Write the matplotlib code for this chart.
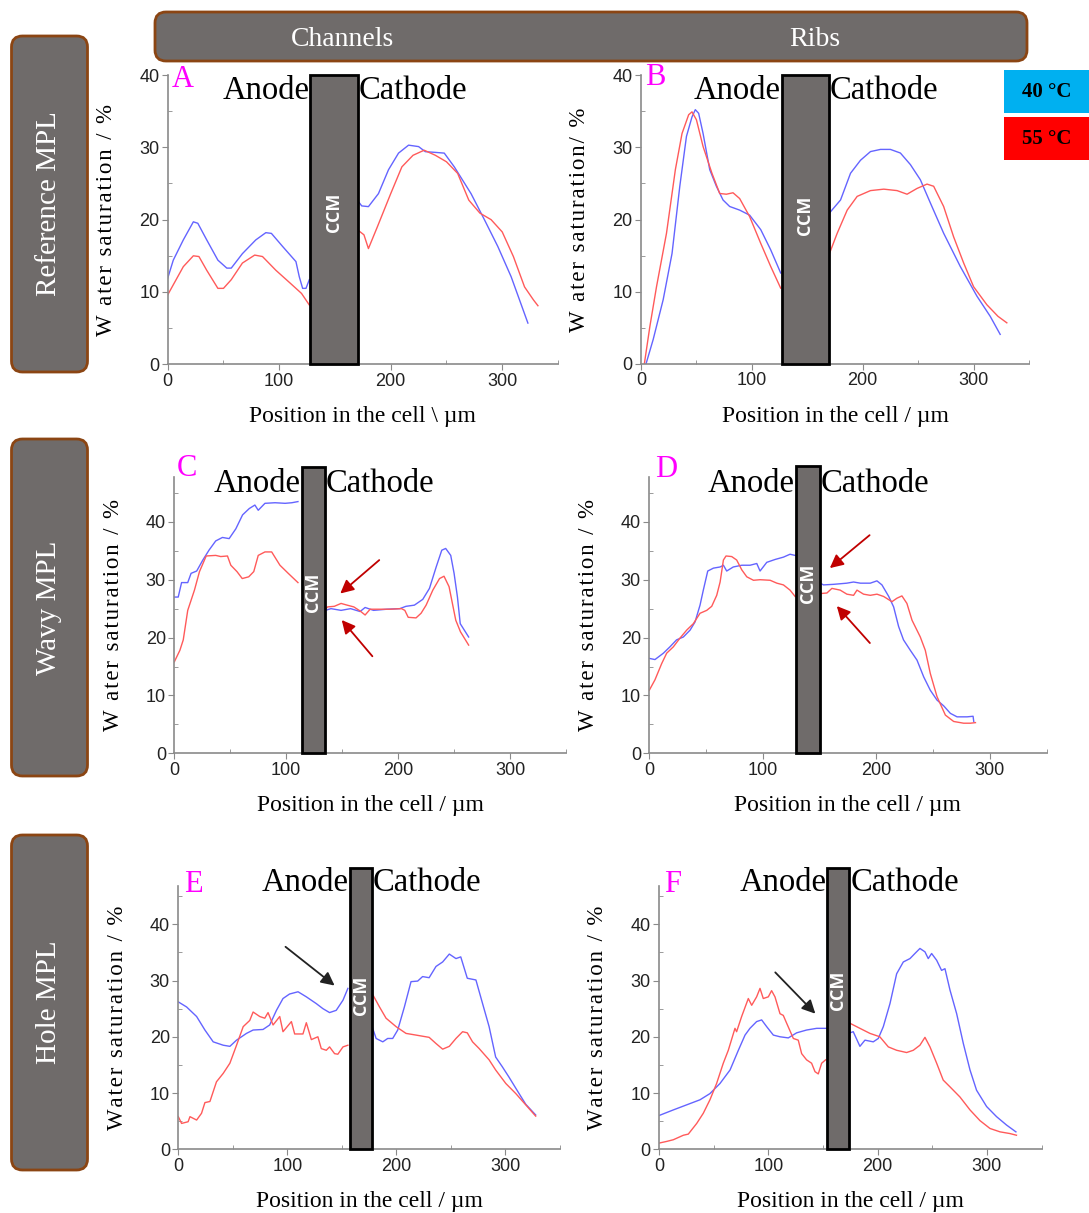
import numpy as np
import matplotlib
matplotlib.use("Agg")
import matplotlib.pyplot as plt
from matplotlib.patches import Rectangle, FancyBboxPatch

nan = np.nan

# ---- data (position in um, water saturation in %), nan splits anode / cathode
a_blue_x = [0, 5, 14, 23, 27, 35, 45, 53, 57, 67, 79, 88, 93, 103, 115, 118, 121, 124, 127, nan,
            171, 174, 180, 189, 198, 207, 216, 225, 231, 240, 248, 257, 272, 284, 296, 308, 323]
a_blue_y = [11.9, 14.4, 17.2, 19.7, 19.5, 17.2, 14.4, 13.3, 13.3, 15.3, 17.2, 18.2, 18.1, 16.3, 14.2, 12.1, 10.5, 10.5, 11.7, nan,
            22.5, 21.9, 21.8, 23.6, 26.9, 29.2, 30.3, 30.1, 29.4, 29.3, 29.2, 27.3, 23.6, 20.0, 16.3, 12.1, 5.7]
a_red_x = [0, 14, 23, 28, 35, 45, 50, 57, 67, 78, 85, 97, 110, 120, 127, nan,
           171, 176, 180, 188, 200, 210, 220, 230, 240, 250, 260, 270, 280, 290, 300, 310, 320, 328, 332]
a_red_y = [9.6, 13.5, 15.0, 14.9, 13.0, 10.5, 10.5, 11.7, 14.0, 15.1, 14.9, 13.0, 11.2, 9.8, 8.2, nan,
           18.5, 17.9, 16.0, 19.0, 23.6, 27.3, 28.9, 29.6, 28.9, 28.0, 26.4, 22.7, 20.9, 20.0, 18.3, 14.9, 10.7, 8.9, 8.1]

b_blue_x = [4.5, 11, 20, 28, 35, 41, 46, 49, 52, 56, 62, 68, 74, 80, 89, 98, 108, 117, 126, nan,
            170, 180, 189, 198, 207, 216, 225, 234, 243, 252, 261, 273, 288, 303, 315, 324]
b_blue_y = [0, 3.4, 8.9, 15.3, 24.6, 31.5, 34.2, 35.2, 34.7, 31.9, 26.9, 24.6, 22.7, 21.8, 21.3, 20.6, 18.6, 15.8, 12.6, nan,
            20.9, 22.7, 26.4, 28.2, 29.4, 29.7, 29.7, 29.2, 27.6, 25.5, 22.3, 18.1, 13.5, 9.4, 6.6, 4.1]
b_red_x = [3, 8, 14, 23, 31, 37, 43, 46, 50, 56, 64, 71, 77, 83, 89, 98, 108, 117, 126, nan,
           170, 177, 186, 195, 207, 219, 231, 240, 249, 258, 264, 273, 282, 291, 300, 312, 322, 330]
b_red_y = [0, 5.2, 10.7, 18.1, 26.9, 31.9, 34.5, 34.9, 33.8, 30.1, 26.4, 23.6, 23.5, 23.7, 22.9, 20.4, 16.7, 13.5, 10.5, nan,
           15.3, 18.1, 21.3, 23.2, 24.0, 24.2, 24.0, 23.5, 24.3, 24.9, 24.6, 21.8, 17.6, 14.0, 10.7, 8.2, 6.6, 5.7]

c_blue_x = [0, 3.5, 6.5, 12, 15, 20, 25.5, 31, 37, 43, 49, 55, 61, 67, 72, 75, 81, 90, 99, 105, 110.5, nan,
            135, 140, 149, 157.5, 166, 170.5, 178, 190, 201.5, 207, 214.5, 222, 228, 234, 239, 242.5, 247, 250, 253, 255.5, 263]
c_blue_y = [27.0, 27.0, 29.5, 29.5, 31.1, 31.5, 33.4, 35.1, 36.7, 37.3, 37.1, 38.8, 41.2, 42.3, 42.9, 42.0, 43.2, 43.3, 43.2, 43.3, 43.5, nan,
            24.7, 25.0, 24.7, 25.0, 24.5, 25.2, 24.7, 24.9, 25.0, 25.4, 25.6, 26.6, 28.5, 32.2, 35.1, 35.4, 34.2, 31.1, 27.0, 22.4, 20.1]
c_red_x = [0, 5, 8, 12, 18, 22.5, 28.5, 37, 41.5, 47.5, 50.5, 56, 60.7, 66.5, 71, 75, 81, 87, 94.4, 101.8, 110.5, nan,
           135, 137, 143, 149, 154.5, 160.4, 166, 170.5, 175, 184, 192.7, 203, 206, 209, 216, 220.5, 225, 231, 237, 241, 245.5,
           248.5, 251.5, 255.7, 263]
c_red_y = [15.8, 17.8, 19.6, 24.7, 28.2, 31.4, 34.1, 34.2, 34.0, 34.1, 32.5, 31.4, 30.2, 30.5, 31.4, 34.2, 34.8, 34.8, 32.5, 31.1, 29.5, nan,
           24.9, 25.3, 25.4, 25.9, 25.6, 25.3, 24.6, 23.9, 24.9, 24.9, 24.9, 25.0, 24.7, 23.5, 23.4, 24.2, 25.6, 28.2, 30.2, 30.6, 28.8,
           25.9, 23.0, 21.0, 18.7]

d_blue_x = [0, 5, 12.4, 18.2, 24, 30, 36, 40.3, 44.7, 47.6, 51.5, 56.5, 62.4, 65.3, 68.2, 74, 81.5, 88.8, 94.7, 97.6, 103.5,
            110.9, 118.2, 124, 128.5, nan,
            150.6, 153.5, 162.4, 174, 180, 186, 194.7, 200.6, 205, 211, 215.3, 219.7, 224, 230, 235.9, 241.8, 247.6, 253.5,
            259.4, 265.3, 271.2, 280, 285.3, 285.9]
d_blue_y = [16.4, 16.2, 17.3, 18.4, 19.6, 20.1, 21.3, 22.7, 25.6, 28.2, 31.5, 32.0, 32.2, 32.5, 31.5, 32.2, 32.5, 32.5, 32.8, 31.5, 33.0,
            33.5, 33.9, 34.4, 34.2, nan,
            29.4, 29.1, 29.2, 29.4, 29.6, 29.4, 29.4, 29.8, 29.1, 27.1, 25.3, 21.9, 19.6, 17.8, 16.1, 13.2, 10.9, 9.2,
            8.2, 6.9, 6.3, 6.3, 6.4, 5.5]
d_red_x = [0, 5, 10.9, 15.3, 21.2, 27, 33, 38.8, 44.7, 50.6, 55, 59.4, 62.4, 65.3, 67.6, 72.6, 77, 81.5, 85.9, 91.8, 97.6,
           106.5, 112.4, 118.2, 124, 128.5, nan,
           150.6, 156.5, 160.9, 168.2, 174.1, 180, 183, 188.8, 194.7, 200.6, 206.5, 213.8, 218.2, 222.6, 227, 231.5, 238.8,
           243.2, 247.6, 253.5, 260.9, 268.2, 277, 283, 287.4]
d_red_y = [10.9, 12.7, 15.5, 17.3, 18.4, 19.9, 21.3, 22.4, 24.2, 24.7, 25.4, 27.3, 29.6, 33.4, 34.1, 34.0, 33.4, 31.7, 30.5, 29.9, 30.0,
           29.9, 29.4, 29.1, 28.2, 27.1, nan,
           27.6, 27.7, 28.5, 28.2, 27.5, 27.3, 28.2, 27.5, 27.3, 27.5, 27.1, 26.2, 26.8, 27.2, 25.9, 23.0, 20.1,
           17.8, 13.8, 9.8, 6.6, 5.5, 5.2, 5.2, 5.3]

e_blue_x = [0, 7.6, 16.8, 24.4, 32, 41.2, 47.3, 53.4, 62.5, 68.6, 77.7, 83.8, 90, 96, 102, 109.8, 117.4, 126.5, 132.6, 138.7,
            144.8, 151, 155.5, nan,
            177.7, 181.4, 187.5, 192, 196.6, 201.2, 207.3, 213.4, 219.5, 224, 230, 236.3, 242.4, 248.5, 254.6, 259, 265,
            272.9, 279, 285, 291, 297, 303, 312.5, 318.6, 327.7]
e_blue_y = [26.2, 25.3, 23.6, 21.2, 19.1, 18.5, 18.3, 19.4, 20.6, 21.2, 21.3, 22.1, 24.7, 26.8, 27.6, 28.0, 27.1, 25.9, 25.0, 24.3,
            24.7, 26.5, 28.6, nan,
            21.8, 19.7, 19.1, 19.7, 19.7, 21.2, 25.3, 29.8, 29.9, 30.7, 30.5, 32.5, 33.3, 34.7, 33.9, 34.2, 30.4,
            30.1, 25.9, 21.8, 16.4, 14.7, 12.9, 9.9, 8.0, 6.1]
e_red_x = [0, 3, 9, 10.7, 16.8, 21.3, 24.4, 29, 35, 41.2, 47.3, 53.4, 59.5, 65.5, 68.6, 74.7, 79.3, 82.3, 86.9, 93, 96,
           103.7, 106.7, 114.3, 117.4, 122, 128, 131.1, 135.7, 138.7, 143.3, 146.3, 151, 155.5, nan,
           177.7, 184.5, 190.5, 199.7, 208.8, 218, 230, 236.3, 242.4, 248.5, 254.6, 260.7, 265, 269.8, 275.9, 285, 291,
           300.3, 309.5, 318.6, 327.7]
e_red_y = [5.8, 4.6, 4.9, 5.8, 5.2, 6.4, 8.3, 8.5, 12.0, 13.5, 15.3, 18.5, 21.8, 22.9, 24.4, 23.6, 23.3, 24.3, 22.1, 23.6, 20.9,
           22.7, 20.5, 20.5, 22.5, 19.5, 20.0, 17.9, 17.6, 18.2, 17.0, 16.9, 18.2, 18.5, nan,
           27.7, 25.3, 23.3, 21.8, 20.6, 20.3, 19.9, 18.8, 17.8, 18.3, 19.7, 20.9, 20.7, 19.1, 17.9, 15.9, 14.1,
           11.7, 9.9, 7.9, 5.9]

f_blue_x = [0, 13.1, 25.3, 37.5, 46.6, 55.8, 65, 72.6, 78.7, 83.2, 89.3, 93.9, 98.5, 104.6, 110.7, 118.3, 125.9, 135, 144.2,
            153.4, nan,
            174.7, 177.7, 183.8, 188.4, 196, 200.6, 205.2, 211.3, 217.4, 223.5, 229.6, 234.1, 238.7, 243.3, 246.3, 249.4,
            254, 258.5, 261.6, 266.2, 272.3, 278.4, 284.5, 290.5, 299.7, 308.8, 318, 326.5]
f_blue_y = [6.0, 7.0, 7.9, 8.8, 9.9, 11.7, 14.1, 17.6, 20.3, 21.5, 22.7, 23.0, 21.8, 20.3, 20.0, 19.8, 20.7, 21.2, 21.5,
            21.5, nan,
            20.7, 20.9, 18.3, 19.4, 19.1, 19.7, 21.8, 25.9, 31.2, 33.3, 33.9, 34.8, 35.7, 35.1, 33.9, 34.8,
            33.6, 31.8, 32.1, 28.3, 24.1, 18.8, 14.1, 10.5, 7.6, 5.8, 4.3, 3.1]
f_red_x = [0, 7, 13.1, 22.3, 26.8, 34.5, 40.5, 46.6, 52.7, 58.8, 63.4, 69.5, 71, 75.6, 81.7, 84.8, 89.3, 92.4, 95.4, 100,
           103, 106.1, 110.7, 113.7, 116.8, 122.9, 127.4, 130.5, 135, 139.6, 142.7, 145.7, 148.8, 152.4, nan,
           174.7, 183.8, 193, 202, 209.8, 217.4, 226.5, 232.6, 238.7, 243.3, 247.9, 254, 260, 266.2, 275.3, 284.5, 293.6,
           302.8, 312, 321, 327]
f_red_y = [1.1, 1.4, 1.7, 2.5, 2.7, 4.6, 6.4, 8.8, 11.7, 15.3, 17.6, 21.5, 20.9, 23.6, 26.8, 25.6, 27.1, 28.6, 26.8, 27.1,
           28.2, 27.1, 24.1, 23.8, 22.4, 19.7, 19.4, 17.0, 15.9, 15.3, 13.8, 13.4, 15.3, 15.9, nan,
           22.4, 21.5, 20.6, 20.0, 18.2, 17.6, 17.2, 17.6, 18.5, 19.9, 18.2, 15.3, 12.3, 11.1, 9.3, 7.0, 5.1,
           3.7, 3.1, 2.8, 2.5]

ccm_span = {"A": (128, 170.5), "B": (127, 169.5), "C": (113.7, 134.5),
            "D": (129, 150), "E": (157.5, 177.5), "F": (154, 174)}
row_labels = ["Reference MPL", "Wavy MPL", "Hole MPL"]
col_labels = ["Channels", "Ribs"]
temps = ["40 °C", "55 °C"]

BLUE = "#6464ff"
RED = "#ff5a5a"
BOX = "#6f6b6a"
EDGE = "#8b4513"
SERIF = ["Liberation Serif", "DejaVu Serif"]
SANS = ["Liberation Sans", "DejaVu Sans"]

W, H = 1089, 1213
fig = plt.figure(figsize=(W / 100, H / 100), dpi=100)


def ax_px(left, right, top, bottom):
    return fig.add_axes([left / W, 1 - bottom / H, (right - left) / W, (bottom - top) / H])


def spaced(s):
    return "\u200a".join(s)


panels = {
    "A": dict(pos=(167.7, 558, 75, 364.3), ylim=40, bx=a_blue_x, by=a_blue_y, rx=a_red_x, ry=a_red_y,
              ylab="W ater saturation / %", xlab="Position in the cell \\ µm", ccm_top=40, ccm_y=21),
    "B": dict(pos=(641, 1029, 75, 364), ylim=40, bx=b_blue_x, by=b_blue_y, rx=b_red_x, ry=b_red_y,
              ylab="W ater saturation/ %", xlab="Position in the cell / µm", ccm_top=40, ccm_y=20.6),
    "C": dict(pos=(174.3, 566, 476.7, 753.3), ylim=47.8, bx=c_blue_x, by=c_blue_y, rx=c_red_x, ry=c_red_y,
              ylab="W ater saturation / %", xlab="Position in the cell / µm", ccm_top=49.4, ccm_y=27.9),
    "D": dict(pos=(649.3, 1046.5, 476.7, 753.3), ylim=47.8, bx=d_blue_x, by=d_blue_y, rx=d_red_x, ry=d_red_y,
              ylab="W ater saturation / %", xlab="Position in the cell / µm", ccm_top=49.7, ccm_y=29.4),
    "E": dict(pos=(178.3, 560, 886, 1149.3), ylim=46.8, bx=e_blue_x, by=e_blue_y, rx=e_red_x, ry=e_red_y,
              ylab="Water saturation / %", xlab="Position in the cell / µm", ccm_top=50, ccm_y=27.4),
    "F": dict(pos=(659, 1041.6, 886, 1149.3), ylim=46.8, bx=f_blue_x, by=f_blue_y, rx=f_red_x, ry=f_red_y,
              ylab="Water saturation / %", xlab="Position in the cell / µm", ccm_top=50, ccm_y=28.3),
}

axes = {}
for key, p in panels.items():
    ax = ax_px(*p["pos"])
    ax.set_facecolor("none")
    ax.plot(p["bx"], p["by"], color=BLUE, lw=1.0)
    ax.plot(p["rx"], p["ry"], color=RED, lw=1.0)
    ax.set_xlim(0, 350)
    ax.set_ylim(0, p["ylim"])
    ax.set_xticks([0, 100, 200, 300])
    ax.set_xticks([50, 150, 250, 350], minor=True)
    ax.set_yticks([0, 10, 20, 30, 40])
    ax.set_yticks(np.arange(5, p["ylim"], 10), minor=True)
    for s in ["top", "right"]:
        ax.spines[s].set_visible(False)
    for s in ["left", "bottom"]:
        ax.spines[s].set_color("#8a8a8a")
        ax.spines[s].set_linewidth(1.2)
    ax.tick_params(which="major", direction="out", length=4, color="#8a8a8a", labelsize=13,
                   labelcolor="#222222", pad=2)
    ax.tick_params(which="minor", direction="in", length=3, color="#8a8a8a")
    for lab in ax.get_xticklabels() + ax.get_yticklabels():
        lab.set_family(SANS)
    ax.set_ylabel(spaced(p["ylab"]), family=SERIF, fontsize=16.5, labelpad=16)
    ax.set_xlabel(p["xlab"], family=SERIF, fontsize=17, labelpad=12)

    x0, x1 = ccm_span[key]
    ax.add_patch(Rectangle((x0, 0), x1 - x0, p["ccm_top"], facecolor=BOX, edgecolor="black",
                           lw=2, clip_on=False, zorder=4))
    ax.text((x0 + x1) / 2, p["ccm_y"], "CCM", rotation=90, color="white", fontweight="bold",
            family=["Open Sans", "DejaVu Sans"], fontsize=13, ha="center", va="center", zorder=5)
    if key in "AB":
        ytxt = p["ylim"] * 0.945
    elif key in "CD":
        ytxt = p["ylim"] * 0.975
    else:
        ytxt = p["ylim"] * 1.012
    ax.text(x0 - 1, ytxt, "Anode", family=SERIF, fontsize=23.5, ha="right", va="center", zorder=5, clip_on=False)
    ax.text(x1 + 1, ytxt, "Cathode", family=SERIF, fontsize=23.5, ha="left", va="center", zorder=5, clip_on=False)
    axes[key] = ax

# panel letters
letter_pos = {"A": (4, 39.4), "B": (4, 39.6), "C": (2.5, 49.3), "D": (5, 49.1), "E": (5, 47.1), "F": (5, 47.1)}
for key, (lx, ly) in letter_pos.items():
    axes[key].text(lx, ly, key, color="#ff00ff", family=SERIF, fontsize=22, ha="left", va="center", clip_on=False)

# arrows
dark_red = "#c00000"
arrows = [("C", (185, 33.7), (146.4, 27.3), dark_red), ("C", (178.6, 16.4), (148, 23.4), dark_red),
          ("D", (196, 38), (157.2, 31.7), dark_red), ("D", (196, 18.7), (163.6, 25.8), dark_red),
          ("E", (96.3, 36.3), (145.3, 28.8), "#222222"), ("F", (104.6, 31.8), (144.8, 23.75), "#222222")]
for key, start, end, col in arrows:
    axes[key].annotate("", xy=end, xytext=start,
                       arrowprops=dict(arrowstyle="-|>", color=col, lw=1.3, mutation_scale=20))

# decorations in pixel space
ov = fig.add_axes([0, 0, 1, 1], zorder=10)
ov.set_xlim(0, W)
ov.set_ylim(H, 0)
ov.axis("off")

ov.add_patch(FancyBboxPatch((155, 12), 872, 49, boxstyle="round,pad=0,rounding_size=11",
                            facecolor=BOX, edgecolor=EDGE, lw=2))
ov.text(343, 39, col_labels[0], color="white", family=SERIF, fontsize=20, ha="center", va="center")
ov.text(815, 39, col_labels[1], color="white", family=SERIF, fontsize=20, ha="center", va="center")

row_y = [(36, 372), (439, 776), (835, 1170)]
for (y0, y1), lab in zip(row_y, row_labels):
    ov.add_patch(FancyBboxPatch((11.5, y0), 76, y1 - y0, boxstyle="round,pad=0,rounding_size=11",
                                facecolor=BOX, edgecolor=EDGE, lw=2))
    ov.text(49.5, (y0 + y1) / 2, lab, color="white", family=SERIF, fontsize=21, rotation=90,
            ha="center", va="center")

ov.add_patch(Rectangle((1004, 70), 85, 43, facecolor="#00b0f0", edgecolor="none"))
ov.add_patch(Rectangle((1004, 117), 85, 43, facecolor="#ff0000", edgecolor="none"))
ov.text(1047, 92, temps[0], family=SERIF, fontsize=15, fontweight="bold", ha="center", va="center")
ov.text(1047, 139, temps[1], family=SERIF, fontsize=15, fontweight="bold", ha="center", va="center")

fig.savefig("out.png", dpi=100)
